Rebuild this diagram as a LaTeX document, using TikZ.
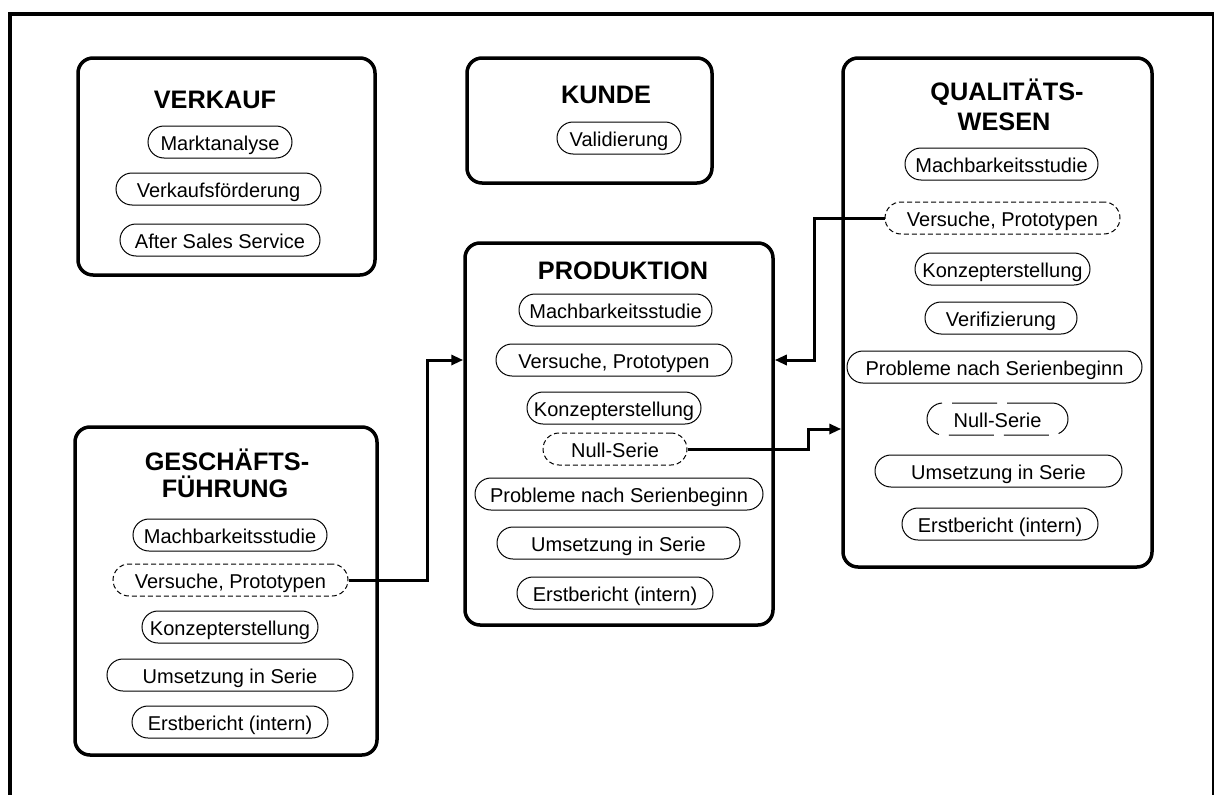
\documentclass[tikz,border=0pt]{standalone}
\usepackage{fontspec}
\setmainfont{Liberation Sans}
\usetikzlibrary{arrows.meta}
\begin{document}
\begin{tikzpicture}[x=1pt,y=-1pt,
  box/.style={draw, line width=3.5pt, rounded corners=15pt, inner sep=0pt},
  heading/.style={anchor=base, inner sep=0pt, font=\bfseries\fontsize{25.3}{30}\selectfont},
  pill/.style={draw, line width=1pt, rounded corners=16pt, minimum height=32pt,
    inner xsep=0pt, inner ysep=0pt, text height=17pt, text depth=0pt,
    font=\fontsize{20}{22}\selectfont, minimum width=#1pt},
  shortdash/.style={dash pattern=on 5pt off 3pt},
  longdash/.style={dash pattern=on 45pt off 10pt},
  conn/.style={line width=3pt, -{Triangle[length=12pt,width=10pt]}},
]
\useasboundingbox (0,0) rectangle (1216,795);

% outer frame (open at the bottom)
\draw[line width=4pt] (10,800) -- (10,14) -- (1214,14);
\draw[line width=1.5pt] (1213,14) -- (1213,800);

% department boxes
\node[box, minimum width=297pt, minimum height=217pt] (verkauf) at (226.5,166.5) {};
\node[box, minimum width=245pt, minimum height=125pt] (kunde) at (589.5,120.5) {};
\node[box, minimum width=309pt, minimum height=509pt] (qw) at (997.5,312.5) {};
\node[box, minimum width=308pt, minimum height=382pt] (prod) at (619,434) {};
\node[box, minimum width=302pt, minimum height=328pt] (gf) at (226,591) {};

% headings
\node[heading] (verkauf-h) at (215,108) {VERKAUF};
\node[heading] (kunde-h) at (606,103) {KUNDE};
\node[heading] (qw-h1) at (1007,100) {QUALITÄTS-};
\node[heading] (qw-h2) at (1004,130) {WESEN};
\node[heading] (prod-h) at (623,279) {PRODUKTION};
\node[heading] (gf-h1) at (227,470) {GESCHÄFTS-};
\node[heading] (gf-h2) at (225,497) {FÜHRUNG};

% Verkauf
\node[pill=144] (vm) at (220,142) {Marktanalyse};
\node[pill=205] (vf) at (218.5,189) {Verkaufsförderung};
\node[pill=200] (vs) at (220,240) {After Sales Service};

% Kunde
\node[pill=124] (kv) at (619,138) {Validierung};

% Qualitätswesen
\node[pill=193] (qm) at (1001.5,164) {Machbarkeitsstudie};
\node[pill=235, shortdash] (qv) at (1002.5,218) {Versuche, Prototypen};
\node[pill=175] (qk) at (1002.5,269) {Konzepterstellung};
\node[pill=152] (qf) at (1001,318) {Verifizierung};
\node[pill=295] (qp) at (994.5,367) {Probleme nach Serienbeginn};
\node[pill=141, longdash] (qn) at (997.5,419) {Null-Serie};
\node[pill=247] (qu) at (998.5,471) {Umsetzung in Serie};
\node[pill=196] (qe) at (1000,524) {Erstbericht (intern)};

% Produktion
\node[pill=193] (pm) at (615.5,310) {Machbarkeitsstudie};
\node[pill=236] (pv) at (614,360) {Versuche, Prototypen};
\node[pill=174] (pk) at (614,408) {Konzepterstellung};
\node[pill=144, shortdash] (pn) at (615,449) {Null-Serie};
\node[pill=288] (pp) at (619,494) {Probleme nach Serienbeginn};
\node[pill=243] (pu) at (618.5,543) {Umsetzung in Serie};
\node[pill=196] (pe) at (615,593) {Erstbericht (intern)};

% Geschäftsführung
\node[pill=194] (gm) at (230,535) {Machbarkeitsstudie};
\node[pill=235, shortdash] (gv) at (230.5,580) {Versuche, Prototypen};
\node[pill=176] (gk) at (230,627) {Konzepterstellung};
\node[pill=246] (gu) at (230,675) {Umsetzung in Serie};
\node[pill=196] (ge) at (230,722) {Erstbericht (intern)};

% connectors
\coordinate (qin) at ([yshift=-116.5pt]qw.west);
\draw[conn] (gv.east) -- ++(79,0) |- (prod.west |- pv);
\draw[conn] (qv.west) -- ++(-70,0) |- (prod.east |- pv);
\draw[conn] (pn.east) -- ++(121,0) |- (qin);
\end{tikzpicture}
\end{document}
